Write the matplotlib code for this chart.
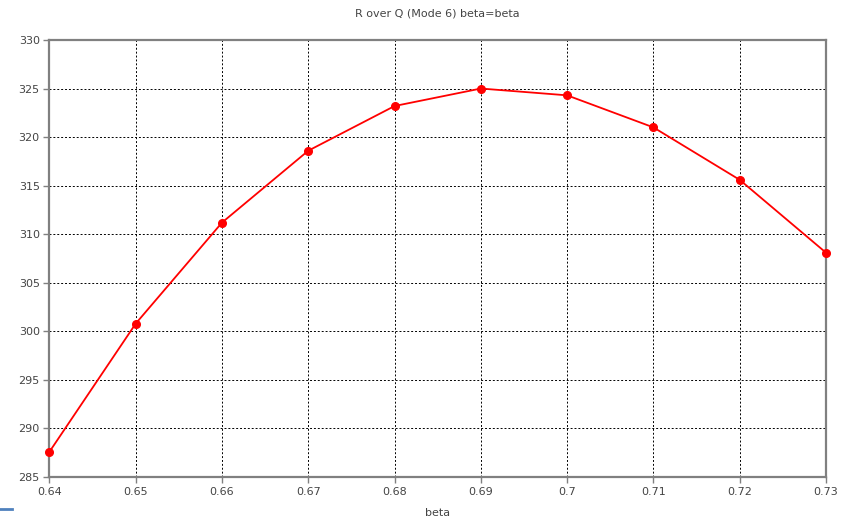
import matplotlib
matplotlib.use("Agg")
import matplotlib.pyplot as plt
from matplotlib.lines import Line2D

# values
beta = [0.64, 0.65, 0.66, 0.67, 0.68, 0.69, 0.70, 0.71, 0.72, 0.73]
r_over_q = [287.6, 300.8, 311.2, 318.6, 323.2, 325.0, 324.3, 321.0, 315.6, 308.1]
x_ticks = [0.64, 0.65, 0.66, 0.67, 0.68, 0.69, 0.70, 0.71, 0.72, 0.73]
x_labels = ["0.64", "0.65", "0.66", "0.67", "0.68", "0.69", "0.7", "0.71", "0.72", "0.73"]
y_ticks = [285, 290, 295, 300, 305, 310, 315, 320, 325, 330]

plt.rcParams["font.family"] = ["DejaVu Sans"]
plt.rcParams["font.size"] = 8

fig = plt.figure(figsize=(8.46, 5.26), dpi=100)
ax = fig.add_axes([0.0585, 0.0932, 0.9178, 0.8308])

ax.plot(beta, r_over_q, color="#ff0000", linewidth=1.3, marker="o", markersize=5.5,
        clip_on=False, zorder=3)

ax.set_xlim(0.64, 0.73)
ax.set_ylim(285, 330)
ax.set_xticks(x_ticks)
ax.set_xticklabels(x_labels)
ax.set_yticks(y_ticks)

ax.grid(True, color="black", linestyle=(0, (2, 2)), linewidth=0.7)
for s in ax.spines.values():
    s.set_color("#808080")
    s.set_linewidth(1.6)
ax.tick_params(colors="#808080", labelcolor="#444444", length=4, width=1, pad=3)

ax.set_title("R over Q (Mode 6) beta=beta", fontsize=8, color="#444444", pad=17)
ax.set_xlabel("beta", color="#444444", labelpad=8)

# small blue mark at bottom left corner
fig.add_artist(Line2D([0, 12 / 846], [1 - 509 / 526, 1 - 509 / 526],
                      color="#4f81bd", linewidth=2))

fig.savefig("out.png", dpi=100)
